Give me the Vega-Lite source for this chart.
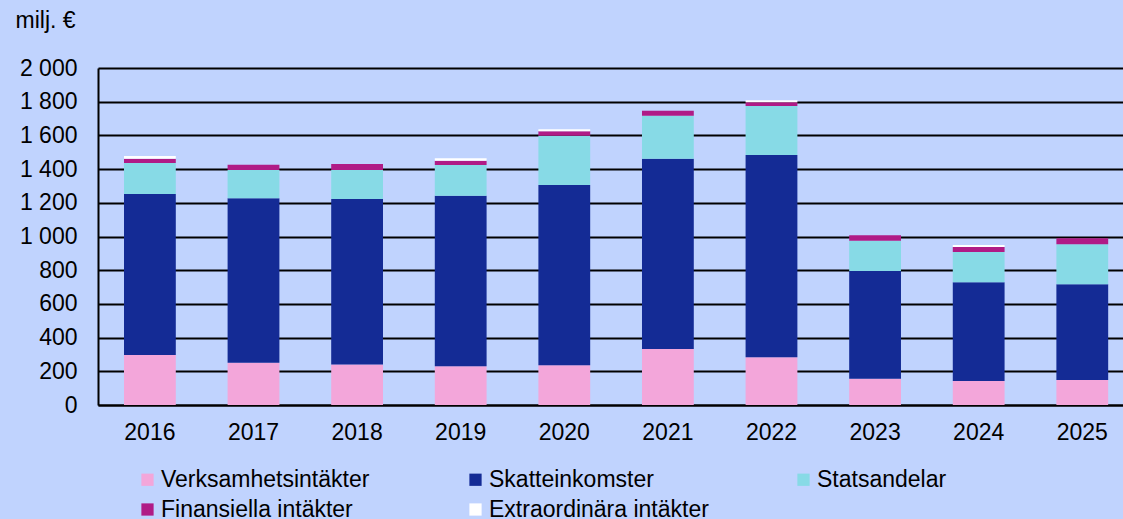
{
  "$schema": "https://vega.github.io/schema/vega-lite/v6.json",
  "width": 1025,
  "height": 337,
  "autosize": {"type": "none"},
  "padding": {"left": 98, "top": 68, "right": 0, "bottom": 114},
  "background": "#C0D3FE",
  "config": {
    "view": {"stroke": null},
    "font": "Liberation Sans",
    "axis": {"labelFont": "Liberation Sans", "titleFont": "Liberation Sans"},
    "legend": {"labelFont": "Liberation Sans"}
  },
  "datasets": {
    "income": [
      {"year": "2016", "typ": "Verksamhetsintäkter", "value": 297},
      {"year": "2016", "typ": "Skatteinkomster", "value": 955},
      {"year": "2016", "typ": "Statsandelar", "value": 184},
      {"year": "2016", "typ": "Finansiella intäkter", "value": 26},
      {"year": "2016", "typ": "Extraordinära intäkter", "value": 16},
      {"year": "2017", "typ": "Verksamhetsintäkter", "value": 251},
      {"year": "2017", "typ": "Skatteinkomster", "value": 976},
      {"year": "2017", "typ": "Statsandelar", "value": 168},
      {"year": "2017", "typ": "Finansiella intäkter", "value": 31},
      {"year": "2017", "typ": "Extraordinära intäkter", "value": 0},
      {"year": "2018", "typ": "Verksamhetsintäkter", "value": 241},
      {"year": "2018", "typ": "Skatteinkomster", "value": 982},
      {"year": "2018", "typ": "Statsandelar", "value": 172},
      {"year": "2018", "typ": "Finansiella intäkter", "value": 35},
      {"year": "2018", "typ": "Extraordinära intäkter", "value": 0},
      {"year": "2019", "typ": "Verksamhetsintäkter", "value": 230},
      {"year": "2019", "typ": "Skatteinkomster", "value": 1012},
      {"year": "2019", "typ": "Statsandelar", "value": 182},
      {"year": "2019", "typ": "Finansiella intäkter", "value": 26},
      {"year": "2019", "typ": "Extraordinära intäkter", "value": 14},
      {"year": "2020", "typ": "Verksamhetsintäkter", "value": 236},
      {"year": "2020", "typ": "Skatteinkomster", "value": 1070},
      {"year": "2020", "typ": "Statsandelar", "value": 292},
      {"year": "2020", "typ": "Finansiella intäkter", "value": 26},
      {"year": "2020", "typ": "Extraordinära intäkter", "value": 12},
      {"year": "2021", "typ": "Verksamhetsintäkter", "value": 332},
      {"year": "2021", "typ": "Skatteinkomster", "value": 1130},
      {"year": "2021", "typ": "Statsandelar", "value": 255},
      {"year": "2021", "typ": "Finansiella intäkter", "value": 30},
      {"year": "2021", "typ": "Extraordinära intäkter", "value": 0},
      {"year": "2022", "typ": "Verksamhetsintäkter", "value": 283},
      {"year": "2022", "typ": "Skatteinkomster", "value": 1201},
      {"year": "2022", "typ": "Statsandelar", "value": 291},
      {"year": "2022", "typ": "Finansiella intäkter", "value": 21},
      {"year": "2022", "typ": "Extraordinära intäkter", "value": 12},
      {"year": "2023", "typ": "Verksamhetsintäkter", "value": 156},
      {"year": "2023", "typ": "Skatteinkomster", "value": 639},
      {"year": "2023", "typ": "Statsandelar", "value": 180},
      {"year": "2023", "typ": "Finansiella intäkter", "value": 32},
      {"year": "2023", "typ": "Extraordinära intäkter", "value": 0},
      {"year": "2024", "typ": "Verksamhetsintäkter", "value": 142},
      {"year": "2024", "typ": "Skatteinkomster", "value": 586},
      {"year": "2024", "typ": "Statsandelar", "value": 180},
      {"year": "2024", "typ": "Finansiella intäkter", "value": 30},
      {"year": "2024", "typ": "Extraordinära intäkter", "value": 12},
      {"year": "2025", "typ": "Verksamhetsintäkter", "value": 148},
      {"year": "2025", "typ": "Skatteinkomster", "value": 568},
      {"year": "2025", "typ": "Statsandelar", "value": 238},
      {"year": "2025", "typ": "Finansiella intäkter", "value": 35},
      {"year": "2025", "typ": "Extraordinära intäkter", "value": 0}
    ]
  },
  "data": {"name": "income"},
  "transform": [
    {"calculate": "indexof(['Verksamhetsintäkter','Skatteinkomster','Statsandelar','Finansiella intäkter','Extraordinära intäkter'], datum.typ)", "as": "ord"}
  ],
  "mark": {"type": "bar"},
  "encoding": {
    "x": {
      "field": "year", "type": "nominal",
      "scale": {"paddingInner": 0.5, "paddingOuter": 0.197, "align": 0.637},
      "axis": {
        "title": null, "labelAngle": 0, "labelFontSize": 23, "labelColor": "#000000",
        "labelPadding": 16, "ticks": false, "domainColor": "#000000", "domainWidth": 2
      }
    },
    "y": {
      "field": "value", "type": "quantitative", "stack": "zero",
      "scale": {"domain": [0, 2000], "nice": false},
      "axis": {
        "values": [0, 200, 400, 600, 800, 1000, 1200, 1400, 1600, 1800, 2000],
        "format": ",d", "labelExpr": "replace(datum.label, ',', ' ')",
        "labelFontSize": 23, "labelColor": "#000000", "labelPadding": 21, "ticks": false,
        "domainColor": "#000000", "domainWidth": 2,
        "grid": true, "gridColor": "#000000", "gridWidth": 2,
        "title": "milj. €", "titleAngle": 0, "titleAlign": "left", "titleBaseline": "alphabetic",
        "titleX": -83, "titleY": -41, "titleFontSize": 23, "titleFontWeight": "normal", "titleColor": "#000000"
      }
    },
    "color": {
      "field": "typ", "type": "nominal",
      "scale": {
        "domain": ["Verksamhetsintäkter", "Skatteinkomster", "Statsandelar", "Finansiella intäkter", "Extraordinära intäkter"],
        "range": ["#F3A6DA", "#142B95", "#87DAE6", "#B01B86", "#FFFFFF"]
      },
      "legend": {
        "title": null, "orient": "none", "legendX": 38, "legendY": 400,
        "direction": "horizontal", "columns": 3, "gridAlign": "all",
        "columnPadding": 83, "rowPadding": 6,
        "symbolType": "square", "symbolSize": 150, "symbolStrokeWidth": 0,
        "labelFontSize": 23, "labelColor": "#000000", "labelOffset": 2, "labelLimit": 400
      }
    },
    "order": {"field": "ord", "type": "quantitative", "sort": "ascending"}
  }
}
